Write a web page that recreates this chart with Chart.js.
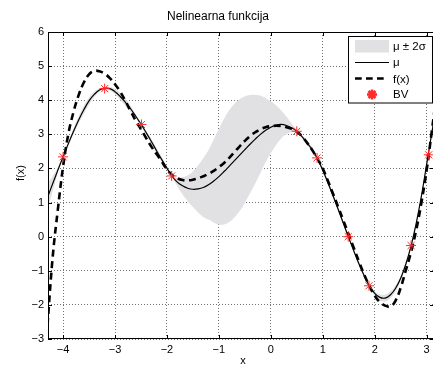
<!DOCTYPE html>
<html>
<head>
<meta charset="utf-8">
<script src="https://cdn.jsdelivr.net/npm/chart.js@4.4.0/dist/chart.umd.min.js"></script>
<style>
  html, body { margin: 0; padding: 0; overflow: hidden; background: #fff; }
  #wrap { width: 440px; height: 367px; }
</style>
</head>
<body>
<div id="wrap"><canvas id="chart" width="440" height="367"></canvas></div>
<script>
// sampling grid of the curves
const xs = [-4.3, -4.2, -4.1, -4.0, -3.9, -3.8, -3.7, -3.6, -3.5, -3.4, -3.3, -3.2, -3.1, -3.0,
  -2.9, -2.8, -2.7, -2.6, -2.5, -2.4, -2.3, -2.2, -2.1, -2.0, -1.9, -1.8, -1.7, -1.6, -1.5,
  -1.4, -1.3, -1.2, -1.1, -1.0, -0.9, -0.8, -0.7, -0.6, -0.5, -0.4, -0.3, -0.2, -0.1, 0.0,
  0.1, 0.2, 0.3, 0.4, 0.5, 0.6, 0.7, 0.8, 0.9, 1.0, 1.1, 1.2, 1.3, 1.4, 1.5, 1.6, 1.7, 1.8,
  1.9, 2.0, 2.1, 2.2, 2.3, 2.4, 2.5, 2.6, 2.7, 2.8, 2.9, 3.0, 3.1, 3.2];

// true function f(x)
const fx = [-2.6, -0.6, 0.8, 2.05, 3.0, 3.65, 4.15, 4.52, 4.76, 4.86, 4.85, 4.78, 4.65, 4.47,
  4.25, 3.98, 3.68, 3.40, 3.15, 2.89, 2.64, 2.42, 2.20, 1.97, 1.81, 1.71, 1.66, 1.65, 1.67,
  1.71, 1.77, 1.84, 1.93, 2.04, 2.16, 2.31, 2.48, 2.65, 2.81, 2.95, 3.06, 3.15, 3.21, 3.24,
  3.25, 3.24, 3.21, 3.16, 3.08, 2.94, 2.75, 2.53, 2.28, 2.0, 1.63, 1.25, 0.86, 0.46, 0.06,
  -0.34, -0.74, -1.12, -1.45, -1.73, -1.92, -2.02, -2.05, -1.88, -1.50, -0.98, -0.45, 0.20,
  1.0, 1.95, 3.1, 4.3];

// predicted mean
const mu = [1.15, 1.55, 1.95, 2.34, 2.72, 3.08, 3.42, 3.72, 3.98, 4.17, 4.30, 4.35, 4.34, 4.25,
  4.11, 3.94, 3.75, 3.53, 3.30, 3.05, 2.79, 2.52, 2.26, 2.01, 1.77, 1.60, 1.49, 1.42, 1.39,
  1.40, 1.44, 1.52, 1.63, 1.76, 1.91, 2.07, 2.23, 2.39, 2.55, 2.71, 2.86, 3.00, 3.12, 3.21,
  3.27, 3.29, 3.26, 3.19, 3.09, 2.93, 2.74, 2.55, 2.28, 1.95, 1.58, 1.19, 0.79, 0.38, -0.03,
  -0.43, -0.81, -1.15, -1.45, -1.66, -1.78, -1.80, -1.71, -1.52, -1.22, -0.80, -0.27, 0.40,
  1.20, 2.12, 3.05, 3.95];

// half width of the band (2 sigma)
const twoSigma = [0.40, 0.22, 0.09, 0.03, 0.06, 0.09, 0.11, 0.12, 0.11, 0.08, 0.05, 0.03, 0.05,
  0.08, 0.10, 0.10, 0.09, 0.06, 0.03, 0.05, 0.07, 0.08, 0.07, 0.05, 0.03, 0.12, 0.25, 0.38,
  0.52, 0.69, 0.86, 1.02, 1.22, 1.40, 1.55, 1.64, 1.67, 1.64, 1.56, 1.44, 1.30, 1.13, 0.94,
  0.76, 0.58, 0.41, 0.26, 0.13, 0.04, 0.05, 0.07, 0.06, 0.03, 0.05, 0.07, 0.08, 0.07, 0.05,
  0.03, 0.04, 0.05, 0.04, 0.03, 0.06, 0.09, 0.10, 0.10, 0.09, 0.07, 0.05, 0.03, 0.05, 0.06,
  0.04, 0.10, 0.30];

// basis vectors
const bvX = [-4.0, -3.2, -2.49, -1.91, 0.5, 0.89, 1.49, 1.89, 2.7, 3.04];
const bvY = [2.34, 4.34, 3.29, 1.78, 3.09, 2.31, 0.0, -1.44, -0.26, 2.4];

const xTicks = [-4, -3, -2, -1, 0, 1, 2, 3];
const yTicks = [-3, -2, -1, 0, 1, 2, 3, 4, 5, 6];

const FONT = '"Liberation Sans", Arial, Helvetica, sans-serif';
const BAND = '#e1e1e3';
const RED = '#ff2a2a';
const DASH = [7, 4.5];

function pts(ys) {
  return xs.map((x, i) => ({ x: x, y: ys[i] }));
}
const upper = pts(mu.map((m, i) => m + twoSigma[i]));
const lower = pts(mu.map((m, i) => m - twoSigma[i]));
const bvPoints = bvX.map((x, i) => ({ x: x, y: bvY[i] }));

const minus = (v) => String(v).replace('-', '\u2212');

// box, inward ticks, axis labels and legend like the matlab figure
const matlabFrame = {
  id: 'matlabFrame',
  afterDraw(chart) {
    const { ctx, chartArea: a, scales } = chart;
    ctx.save();
    ctx.strokeStyle = '#000';
    ctx.lineWidth = 1;
    ctx.setLineDash([]);
    ctx.strokeRect(a.left + 0.5, a.top + 0.5, a.right - a.left - 1, a.bottom - a.top - 1);

    ctx.beginPath();
    xTicks.forEach((v) => {
      const p = Math.round(scales.x.getPixelForValue(v)) + 0.5;
      ctx.moveTo(p, a.bottom); ctx.lineTo(p, a.bottom - 4);
      ctx.moveTo(p, a.top); ctx.lineTo(p, a.top + 4);
    });
    yTicks.forEach((v) => {
      const p = Math.round(scales.y.getPixelForValue(v)) + 0.5;
      ctx.moveTo(a.left, p); ctx.lineTo(a.left + 4, p);
      ctx.moveTo(a.right, p); ctx.lineTo(a.right - 4, p);
    });
    ctx.stroke();

    // axis titles
    ctx.fillStyle = '#000';
    ctx.font = '11px ' + FONT;
    ctx.textAlign = 'center';
    ctx.textBaseline = 'middle';
    ctx.fillText('x', 243, 361);
    ctx.save();
    ctx.translate(21, 173);
    ctx.rotate(-Math.PI / 2);
    ctx.fillText('f(x)', 0, 0);
    ctx.restore();

    // legend
    const lx = 348.5, ly = 36.5, lw = 84, lh = 66.5;
    ctx.fillStyle = '#fff';
    ctx.fillRect(lx, ly, lw, lh);
    ctx.strokeRect(lx, ly, lw, lh);

    ctx.fillStyle = BAND;
    ctx.fillRect(355, 40, 34, 12.5);

    ctx.beginPath();
    ctx.lineWidth = 1.2;
    ctx.moveTo(355, 62.5); ctx.lineTo(389, 62.5);
    ctx.stroke();

    ctx.beginPath();
    ctx.lineWidth = 2.6;
    ctx.setLineDash([6.7, 4.3]);
    ctx.moveTo(355, 78.5); ctx.lineTo(384, 78.5);
    ctx.stroke();
    ctx.setLineDash([]);

    ctx.strokeStyle = RED;
    Chart.helpers.drawPoint(ctx, { pointStyle: 'star', radius: 5, borderWidth: 1, rotation: 0 }, 372, 94.5);

    ctx.fillStyle = '#000';
    ctx.font = '11.5px ' + FONT;
    ctx.textAlign = 'left';
    ctx.fillText('\u03bc \u00b1 2\u03c3', 393, 46.5);
    ctx.fillText('\u03bc', 393, 62.5);
    ctx.fillText('f(x)', 393, 79.5);
    ctx.fillText('BV', 393, 95);
    ctx.restore();
  }
};

new Chart(document.getElementById('chart'), {
  type: 'line',
  data: {
    datasets: [
      {
        label: 'BV',
        data: bvPoints,
        showLine: false,
        pointStyle: 'star',
        pointRadius: 5,
        pointBorderWidth: 1,
        pointBorderColor: RED,
        borderColor: RED,
      },
      {
        label: '\u03bc',
        data: pts(mu),
        borderColor: '#000',
        borderWidth: 1.2,
        pointRadius: 0,
        tension: 0.4,
        fill: false,
      },
      {
        label: 'f(x)',
        data: pts(fx),
        borderColor: '#000',
        borderWidth: 2.6,
        borderDash: DASH,
        pointRadius: 0,
        tension: 0.4,
        fill: false,
      },
      {
        label: '\u03bc \u00b1 2\u03c3',
        data: upper,
        borderWidth: 0,
        borderColor: 'rgba(0,0,0,0)',
        backgroundColor: BAND,
        pointRadius: 0,
        tension: 0.4,
        fill: '+1',
      },
      {
        label: 'lower',
        data: lower,
        borderWidth: 0,
        borderColor: 'rgba(0,0,0,0)',
        pointRadius: 0,
        tension: 0.4,
        fill: false,
      },
    ],
  },
  options: {
    responsive: false,
    animation: false,
    devicePixelRatio: 1,
    layout: { padding: { left: 0, right: 4, top: 0, bottom: 0 } },
    plugins: {
      legend: { display: false },
      tooltip: { enabled: false },
      title: {
        display: true,
        text: 'Nelinearna funkcija',
        color: '#000',
        font: { family: FONT, size: 12, weight: 'normal' },
        padding: { top: 9.5, bottom: 8.1 },
      },
    },
    scales: {
      x: {
        type: 'linear',
        min: -4.29,
        max: 3.1416,
        afterBuildTicks: (s) => { s.ticks = xTicks.map((v) => ({ value: v })); },
        afterFit: (s) => { s.height = 28; },
        grid: { color: 'rgba(0,0,0,0.55)', drawTicks: false },
        border: { display: false, dash: [1, 2] },
        ticks: {
          color: '#000',
          padding: 4,
          maxRotation: 0,
          font: { family: FONT, size: 11 },
          callback: minus,
        },
      },
      y: {
        type: 'linear',
        min: -3,
        max: 6,
        afterBuildTicks: (s) => { s.ticks = yTicks.map((v) => ({ value: v })); },
        afterFit: (s) => { s.width = 48; },
        grid: { color: 'rgba(0,0,0,0.55)', drawTicks: false },
        border: { display: false, dash: [1, 2] },
        ticks: {
          color: '#000',
          padding: 4,
          font: { family: FONT, size: 11 },
          callback: minus,
        },
      },
    },
  },
  plugins: [matlabFrame],
});
</script>
</body>
</html>
